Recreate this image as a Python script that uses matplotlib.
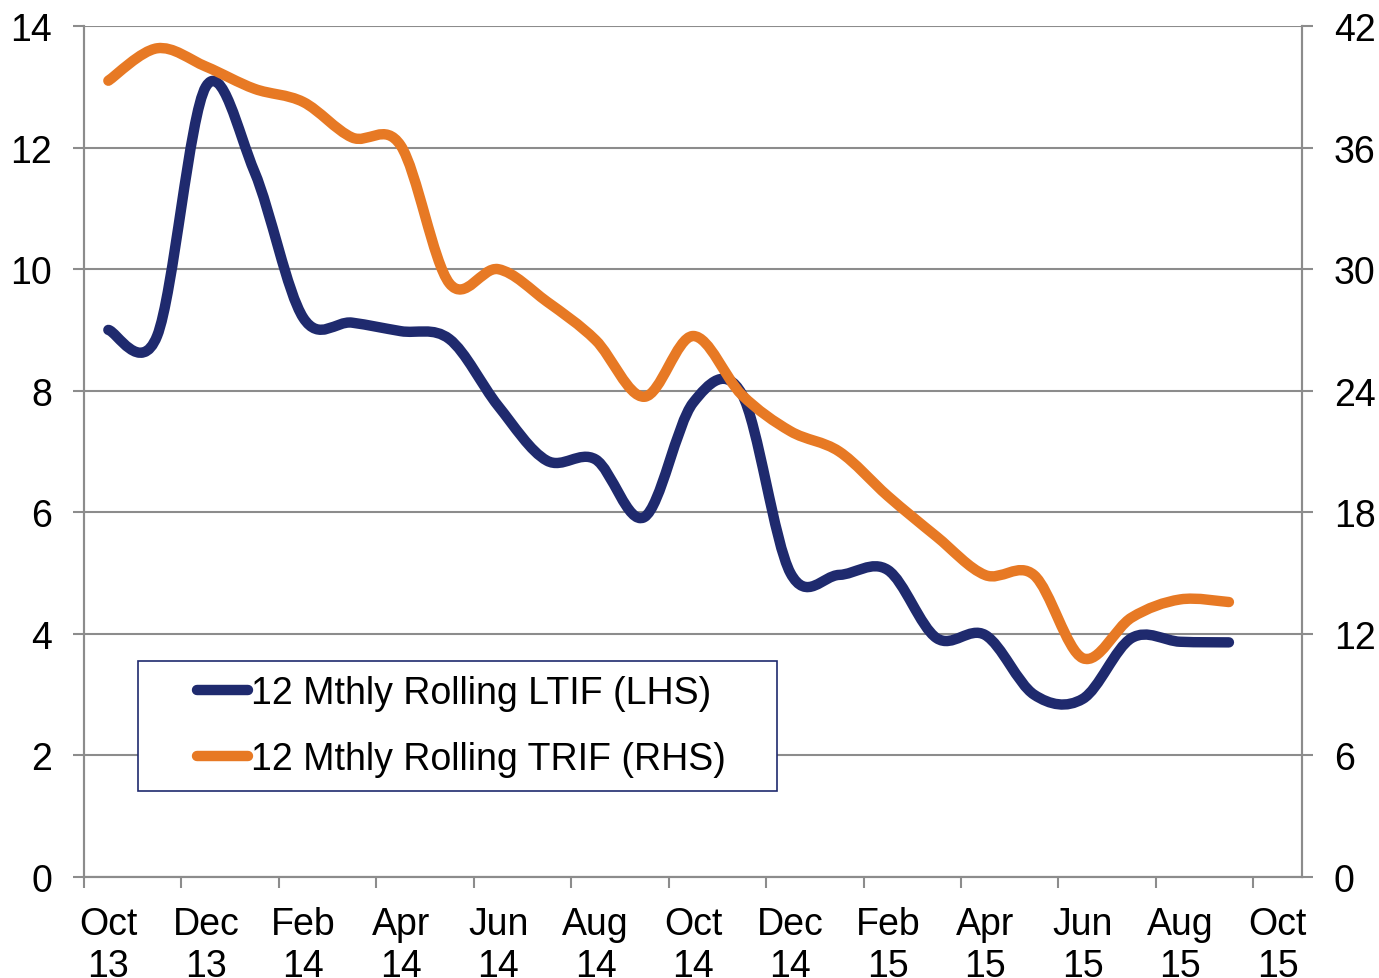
import matplotlib
matplotlib.use("Agg")
import matplotlib.pyplot as plt
from matplotlib.path import Path
from matplotlib.patches import PathPatch, Rectangle
from matplotlib.lines import Line2D

plt.rcParams['font.family'] = ['Liberation Sans', 'DejaVu Sans']

# ---------- DATA ----------
months = ['Oct', 'Nov', 'Dec', 'Jan', 'Feb', 'Mar', 'Apr', 'May', 'Jun', 'Jul', 'Aug', 'Sep',
          'Oct', 'Nov', 'Dec', 'Jan', 'Feb', 'Mar', 'Apr', 'May', 'Jun', 'Jul', 'Aug', 'Sep', 'Oct']
years = ['13', '13', '13', '14', '14', '14', '14', '14', '14', '14', '14', '14',
         '14', '14', '14', '15', '15', '15', '15', '15', '15', '15', '15', '15', '15']

ltif = [9.0, 8.9, 13.0, 11.6, 9.2, 9.12, 8.98, 8.85, 7.75, 6.85, 6.87, 5.92,
        7.8, 7.95, 5.0, 4.97, 5.05, 3.93, 3.98, 3.0, 2.93, 3.93, 3.87, 3.86]
trif = [39.3, 40.9, 40.0, 38.9, 38.25, 36.5, 36.1, 29.3, 30.0, 28.4, 26.5, 23.7,
        26.7, 23.8, 22.0, 21.0, 18.8, 16.8, 14.9, 14.9, 10.8, 12.8, 13.7, 13.57]
labels = ['12 Mthly Rolling LTIF (LHS)', '12 Mthly Rolling TRIF (RHS)']

BLUE = '#1f2a6e'
ORANGE = '#e77924'
GREY = '#8c8c8c'
FS = 27


def smooth_path(xs, ys):
    # excel style smoothed line: bezier through every point
    n = len(xs)
    verts = [(xs[0], ys[0])]
    codes = [Path.MOVETO]
    for i in range(n - 1):
        i0 = max(i - 1, 0)
        i3 = min(i + 2, n - 1)
        c1 = (xs[i] + (xs[i + 1] - xs[i0]) / 6.0, ys[i] + (ys[i + 1] - ys[i0]) / 6.0)
        c2 = (xs[i + 1] - (xs[i3] - xs[i]) / 6.0, ys[i + 1] - (ys[i3] - ys[i]) / 6.0)
        verts += [c1, c2, (xs[i + 1], ys[i + 1])]
        codes += [Path.CURVE4] * 3
    return Path(verts, codes)


fig = plt.figure(figsize=(13.79, 9.79), dpi=100)
ax = fig.add_axes([84 / 1379, 1 - 878 / 979, 1218 / 1379, 851 / 979])
ax2 = ax.twinx()

x = list(range(len(ltif)))
ax.set_xlim(-0.5, len(months) - 0.5)
ax.set_ylim(0, 14)
ax2.set_ylim(0, 42)

ax.set_yticks(range(0, 15, 2))
ax2.set_yticks(range(0, 43, 6))
ax.yaxis.grid(True, color=GREY, linewidth=1.5)
ax.set_axisbelow(True)

# category boundaries get the tick marks, labels sit on the category centres
ax.set_xticks([i - 0.5 for i in range(0, len(months), 2)])
ax.set_xticklabels([])
ax.set_xticks(range(0, len(months), 2), minor=True)
ax.set_xticklabels([months[i] + '\n' + years[i] for i in range(0, len(months), 2)],
                   minor=True, fontsize=FS)
ax.tick_params(axis='x', which='major', length=8, width=1.5, color=GREY, direction='out')
ax.tick_params(axis='x', which='minor', length=0, pad=21)
ax.tick_params(axis='y', length=8, width=1.5, color=GREY, labelsize=FS, pad=15)
ax2.tick_params(axis='y', length=8, width=1.5, color=GREY, labelsize=FS, pad=15)

for a in (ax, ax2):
    for s in a.spines.values():
        s.set_color(GREY)
        s.set_linewidth(1.5)
    a.spines['top'].set_visible(False)

ax.add_patch(PathPatch(smooth_path(x, ltif), fill=False, edgecolor=BLUE, linewidth=7.5,
                       capstyle='round', joinstyle='round', zorder=3))
ax2.add_patch(PathPatch(smooth_path(x, trif), fill=False, edgecolor=ORANGE, linewidth=7.5,
                        capstyle='round', joinstyle='round', zorder=3))

# legend box drawn by hand, entries placed inside it
ax2.add_patch(Rectangle(((138 - 84) / 1218, (878 - 792) / 851), 639 / 1218, 130 / 851,
                        transform=ax2.transAxes, facecolor='white', edgecolor=BLUE,
                        linewidth=1.2, zorder=4))
handles = [Line2D([], [], color=BLUE, linewidth=7.5, solid_capstyle='round'),
           Line2D([], [], color=ORANGE, linewidth=7.5, solid_capstyle='round')]
leg = ax2.legend(handles, labels, loc='center left',
                 bbox_to_anchor=((197 - 84) / 1218, (878 - 727) / 851),
                 borderaxespad=0, borderpad=0, fontsize=FS, handlelength=1.35,
                 handletextpad=0.1, labelspacing=0.8, frameon=False)
leg.set_zorder(5)

fig.savefig('out.png', dpi=100)
